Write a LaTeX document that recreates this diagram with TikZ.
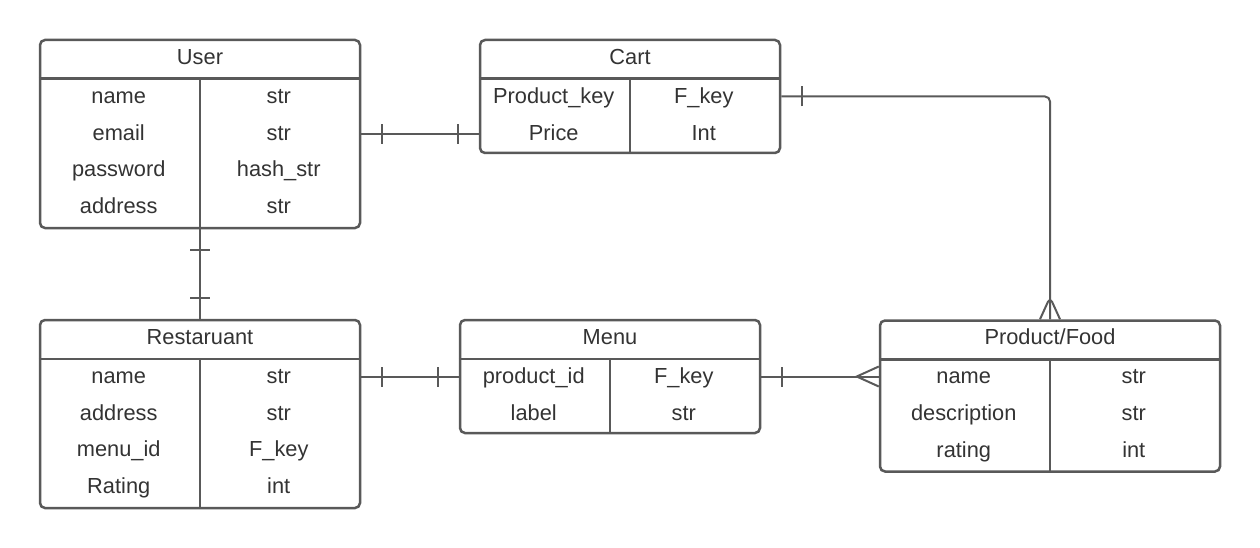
\documentclass[tikz,border=0pt]{standalone}
\usepackage{fontspec}
\setmainfont{Liberation Sans}
\usetikzlibrary{decorations.markings}
\definecolor{er}{HTML}{595959}
\definecolor{ertext}{HTML}{333333}
\begin{document}
\begin{tikzpicture}[x=1pt,y=-1pt]
	\def\dy{36.8}
	\tikzset{tb/.style={draw=er,line width=2.5pt,rectangle,rounded corners=5pt,inner sep=0pt},
		t/.style={anchor=base,text=ertext,font=\fontsize{21.8}{26}\selectfont,inner sep=0pt},
		ln/.style={draw=er,line width=2pt},
		bars/.style={postaction={decorate},decoration={markings,
				mark=at position 21pt with {\draw[ln](0,-10pt)--(0,10pt);},
				mark=at position -21pt with {\draw[ln](0,-10pt)--(0,10pt);}}},
		crow/.style={postaction={decorate},decoration={markings,
				mark=at position 21pt with {\draw[ln](0,-10pt)--(0,10pt);},
				mark=at position -22pt with {\draw[ln](22pt,-10pt)--(0,0)--(22pt,10pt);}}}}
	\useasboundingbox(0,0)rectangle(1260,548);
	%% Tables
	\node[tb,minimum width=320pt,minimum height=188pt](user) at (200,134){};
	\node[tb,minimum width=300pt,minimum height=113pt](cart) at (630,96.5){};
	\node[tb,minimum width=320pt,minimum height=188pt](rest) at (200,414){};
	\node[tb,minimum width=300pt,minimum height=113pt](menu) at (610,376.5){};
	\node[tb,minimum width=340pt,minimum height=151pt](prod) at (1050,396){};
	\foreach \b in {user,cart,rest,menu,prod}
	\draw[er,line width=2.5pt]([yshift=-40pt]\b.north west)--([yshift=-40pt]\b.north east)([yshift=-40pt]\b.north)--(\b.south);
	%% Connectors
	\draw[ln,bars](user.east)--(user.east-|cart.west);
	\draw[ln,bars](user.south)--(rest.north);
	\draw[ln,bars](menu.west-|rest.east)--(menu.west);
	\draw[ln,crow](menu.east)--(menu.east-|prod.west);
	\draw[ln,crow,rounded corners=5pt](cart.east)-|(prod.north);
	%% Texts
	\path(user.north)++(0,25.5)node[t](uh){User};
	\path(user.north west)++(80,64.5)node[t](u1){name}++(0,\dy)node[t](u2){email}++(0,\dy)node[t](u3){password}++(0,\dy)node[t](u4){address};
	\path(user.north west)++(240,64.5)node[t](v1){str}++(0,\dy)node[t](v2){str}++(0,\dy)node[t](v3){hash\_str}++(0,\dy)node[t](v4){str};
	\path(cart.north)++(0,25.5)node[t](ch){Cart};
	\path(cart.north west)++(75,64.5)node[t](c1){Product\_key}++(0,\dy)node[t](c2){Price};
	\path(cart.north west)++(225,64.5)node[t](d1){F\_key}++(0,\dy)node[t](d2){Int};
	\path(rest.north)++(0,25.5)node[t](rh){Restaruant};
	\path(rest.north west)++(80,64.5)node[t](r1){name}++(0,\dy)node[t](r2){address}++(0,\dy)node[t](r3){menu\_id}++(0,\dy)node[t](r4){Rating};
	\path(rest.north west)++(240,64.5)node[t](s1){str}++(0,\dy)node[t](s2){str}++(0,\dy)node[t](s3){F\_key}++(0,\dy)node[t](s4){int};
	\path(menu.north)++(0,25.5)node[t](mh){Menu};
	\path(menu.north west)++(75,64.5)node[t](m1){product\_id}++(0,\dy)node[t](m2){label};
	\path(menu.north west)++(225,64.5)node[t](n1){F\_key}++(0,\dy)node[t](n2){str};
	\path(prod.north)++(0,25.5)node[t](ph){Product/Food};
	\path(prod.north west)++(85,64.5)node[t](p1){name}++(0,\dy)node[t](p2){description}++(0,\dy)node[t](p3){rating};
	\path(prod.north west)++(255,64.5)node[t](q1){str}++(0,\dy)node[t](q2){str}++(0,\dy)node[t](q3){int};
\end{tikzpicture}
\end{document}
